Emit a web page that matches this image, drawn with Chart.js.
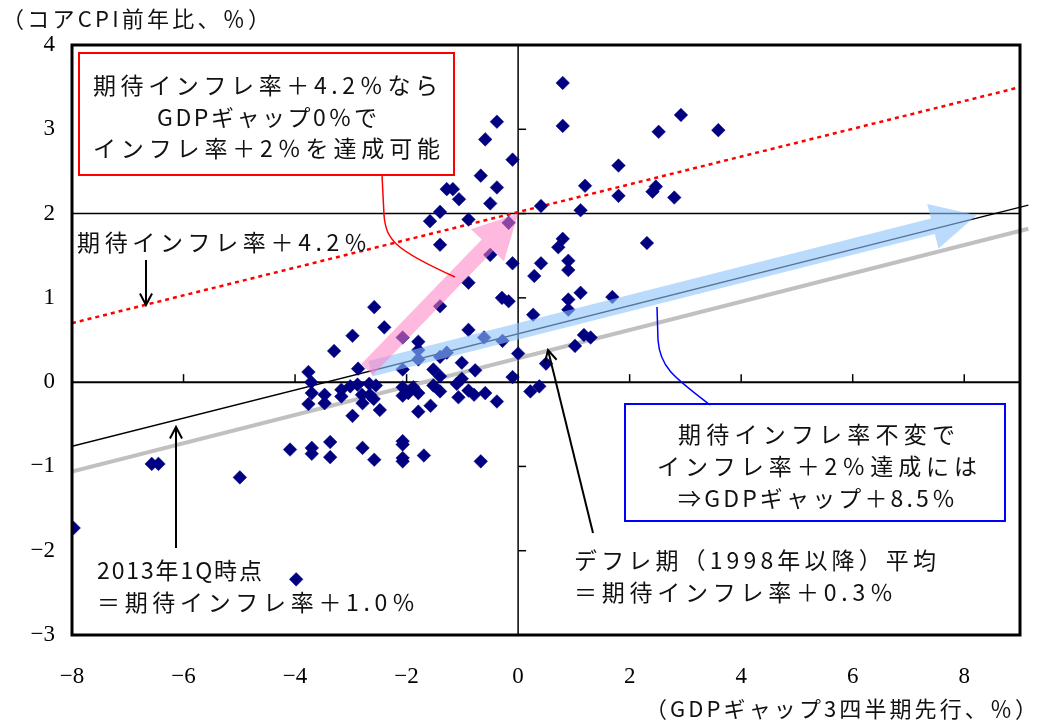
<!DOCTYPE html>
<html><head><meta charset="utf-8">
<script src="https://cdn.jsdelivr.net/npm/chart.js@4.4.1/dist/chart.umd.min.js"></script>
<style>html,body{margin:0;padding:0;background:#fff;}canvas{display:block;}</style>
</head><body>
<canvas id="c" width="1039" height="724"></canvas>
<script>
// ---- data ----
const xTicks = [-8, -6, -4, -2, 0, 2, 4, 6, 8];
const yTicks = [-3, -2, -1, 0, 1, 2, 3, 4];
const gapX = [
 -7.97,-6.57,-6.45,-4.99,-3.98,
 -2.58,-2.40,-2.97,-3.30,-2.07,-2.87,-2.07,-3.76,-3.71,-3.70,-3.76,-3.47,-3.47,-3.17,-3.17,-3.01,-2.88,-2.80,-2.79,-2.67,-2.55,-2.66,-2.59,-2.48,-2.97,-2.07,-2.07,
 -4.09,-3.70,-3.70,-3.37,-3.37,-2.79,-2.58,-2.07,-2.07,-2.07,-2.07,-1.69,-0.67,
 -0.89,-0.29,-0.17,-1.40,0.27,-1.79,-0.89,-0.61,-0.28,0.00,-1.79,-1.79,-1.28,-1.40,-1.01,-0.77,-0.10,-1.52,-1.40,-1.01,-1.10,-1.52,-1.40,-1.88,-1.97,-1.79,-0.89,-0.79,-0.59,-1.07,-0.38,0.22,0.38,-1.79,-1.57,
 -0.38,-0.59,-0.10,-0.67,-0.38,-1.28,-1.17,-1.06,-0.50,-1.40,-1.58,-0.89,-0.17,-1.40,-0.50,-0.10,
 0.80,0.80,2.92,2.52,3.59,1.80,1.20,2.47,2.41,1.80,2.80,0.41,1.12,0.80,0.72,2.31,0.41,0.29,0.90,0.90,1.12,0.90,0.90,1.69,1.18,1.30,1.02,0.50
];
const cpiY = [
 -1.73,-0.97,-0.97,-1.13,-2.34,
 0.89,0.65,0.55,0.37,0.53,0.16,0.15,0.12,0.00,-0.13,-0.26,-0.15,-0.25,-0.09,-0.17,-0.05,-0.03,-0.15,-0.25,-0.02,-0.04,-0.15,-0.20,-0.33,-0.40,-0.06,-0.16,
 -0.80,-0.78,-0.85,-0.71,-0.89,-0.78,-0.92,-0.70,-0.74,-0.90,-0.94,-0.87,-0.94,
 1.18,1.00,0.96,0.90,0.80,0.48,0.62,0.53,0.49,0.34,0.38,0.27,0.35,0.30,0.23,0.14,0.06,0.15,0.07,0.04,-0.02,-0.04,-0.11,-0.06,-0.13,-0.13,-0.10,-0.15,-0.13,-0.18,-0.23,-0.11,-0.05,-0.35,-0.28,
 3.09,2.88,2.64,2.45,2.31,2.29,2.29,2.17,2.12,2.02,1.91,1.93,1.89,1.63,1.51,1.41,
 3.55,3.04,3.17,2.97,2.99,2.57,2.33,2.32,2.26,2.21,2.19,2.09,2.04,1.70,1.60,1.65,1.41,1.26,1.44,1.33,1.06,0.98,0.86,1.01,0.56,0.53,0.43,0.22
];
// fitted lines (end points)
const fitX = [-8, 9.15];
const avgDeflY = [-1.06, 1.82];      // デフレ期平均
const q2013Y = [-0.76, 2.10];        // 2013年1Q時点
const expX = [-8, 9];
const exp42Y = [0.70, 3.50];         // 期待インフレ率＋4.2％
const targetLevel = 2;
const pinkArrowPts = [[-2.71, 0.15], [0.0, 2.0]];
const blueArrowPts = [[-2.65, 0.16], [8.22, 1.98]];

const JP = '"Noto Sans CJK JP", "Noto Sans", sans-serif';

function spaced(ctx, text, left, right, cy) {
  const chars = Array.from(text);
  const w = chars.map(c => ctx.measureText(c).width);
  const total = w.reduce((a, b) => a + b, 0);
  const gap = chars.length > 1 ? ((right - left) - total) / (chars.length - 1) : 0;
  let x = left;
  ctx.textAlign = 'left'; ctx.textBaseline = 'middle';
  chars.forEach((c, i) => { ctx.fillText(c, x, cy); x += w[i] + gap; });
}
function arrowLine(ctx, x1, y1, x2, y2) {
  ctx.beginPath(); ctx.moveTo(x1, y1); ctx.lineTo(x2, y2); ctx.stroke();
  const a = Math.atan2(y2 - y1, x2 - x1), L = 13, h = Math.PI / 6.5;
  ctx.beginPath();
  ctx.moveTo(x2 - L * Math.cos(a - h), y2 - L * Math.sin(a - h));
  ctx.lineTo(x2, y2);
  ctx.lineTo(x2 - L * Math.cos(a + h), y2 - L * Math.sin(a + h));
  ctx.stroke();
}
function blockArrow(ctx, x1, y1, x2, y2, shaft, headW, headL, color) {
  const a = Math.atan2(y2 - y1, x2 - x1);
  const len = Math.hypot(x2 - x1, y2 - y1);
  ctx.save();
  ctx.translate(x1, y1); ctx.rotate(a);
  ctx.beginPath();
  ctx.moveTo(0, -shaft / 2);
  ctx.lineTo(len - headL, -shaft / 2);
  ctx.lineTo(len - headL, -headW / 2);
  ctx.lineTo(len, 0);
  ctx.lineTo(len - headL, headW / 2);
  ctx.lineTo(len - headL, shaft / 2);
  ctx.lineTo(0, shaft / 2);
  ctx.closePath();
  ctx.fillStyle = color; ctx.fill();
  ctx.restore();
}

const decor = {
  id: 'decor',
  beforeDatasetsDraw(chart) {
    const {ctx, chartArea: ca, scales: {x, y}} = chart;
    const x0 = x.getPixelForValue(0), y0 = y.getPixelForValue(0), y2 = y.getPixelForValue(targetLevel);
    ctx.save();
    ctx.strokeStyle = '#000';
    ctx.lineWidth = 1.5;
    ctx.beginPath(); ctx.moveTo(ca.left, y2); ctx.lineTo(ca.right, y2); ctx.stroke();
    ctx.lineWidth = 2;
    ctx.beginPath(); ctx.moveTo(ca.left, y0); ctx.lineTo(ca.right, y0); ctx.stroke();
    ctx.lineWidth = 1.5;
    ctx.beginPath(); ctx.moveTo(x0, ca.top); ctx.lineTo(x0, ca.bottom); ctx.stroke();
    ctx.lineWidth = 1.5;
    xTicks.forEach(v => { const px = x.getPixelForValue(v); ctx.beginPath(); ctx.moveTo(px, y0); ctx.lineTo(px, y0 - 8); ctx.stroke(); });
    yTicks.forEach(v => { const py = y.getPixelForValue(v); ctx.beginPath(); ctx.moveTo(x0, py); ctx.lineTo(x0 + 8, py); ctx.stroke(); });
    ctx.restore();
  },
  afterDatasetsDraw(chart) {
    const {ctx, chartArea: ca, scales: {x, y}} = chart;
    ctx.save();
    ctx.beginPath(); ctx.rect(ca.left, ca.top, ca.width, ca.height); ctx.clip();
    const P = p => [x.getPixelForValue(p[0]), y.getPixelForValue(p[1])];
    let [a, b] = [P(blueArrowPts[0]), P(blueArrowPts[1])];
    blockArrow(ctx, a[0], a[1], b[0], b[1], 16, 46, 45, 'rgba(140,195,250,0.6)');
    [a, b] = [P(pinkArrowPts[0]), P(pinkArrowPts[1])];
    blockArrow(ctx, a[0], a[1], b[0], b[1], 16, 46, 44, 'rgba(255,125,195,0.55)');
    ctx.restore();
  },
  afterDraw(chart) {
    const {ctx, chartArea: ca} = chart;
    ctx.save();
    // frame
    ctx.strokeStyle = '#000'; ctx.lineWidth = 3;
    ctx.strokeRect(ca.left, ca.top, ca.right - ca.left, ca.bottom - ca.top);
    // red box
    ctx.fillStyle = '#fff'; ctx.fillRect(79, 53, 375, 122);
    ctx.strokeStyle = '#ff0000'; ctx.lineWidth = 2; ctx.strokeRect(79, 53, 375, 122);
    // red connector
    ctx.lineWidth = 1.5;
    ctx.beginPath(); ctx.moveTo(382, 175); ctx.lineTo(384, 215);
    ctx.bezierCurveTo(386, 240, 395, 250, 455, 277); ctx.stroke();
    // blue box
    ctx.fillStyle = '#fff'; ctx.fillRect(625, 404, 380, 117);
    ctx.strokeStyle = '#0000ff'; ctx.lineWidth = 2; ctx.strokeRect(625, 404, 380, 117);
    ctx.lineWidth = 1.5;
    ctx.beginPath(); ctx.moveTo(657, 307); ctx.lineTo(658, 340);
    ctx.bezierCurveTo(660, 368, 675, 378, 710, 405); ctx.stroke();
    // black arrows
    ctx.strokeStyle = '#000'; ctx.lineWidth = 2;
    arrowLine(ctx, 146, 260, 146, 305);
    arrowLine(ctx, 176, 548, 176, 427);
    arrowLine(ctx, 593, 533, 548, 350);
    // texts
    ctx.fillStyle = '#111';
    ctx.font = '23px ' + JP;
    spaced(ctx, '期待インフレ率＋4.2％なら', 93, 438, 85);
    spaced(ctx, 'GDPギャップ0％で', 157, 377, 117);
    spaced(ctx, 'インフレ率＋2％を達成可能', 93, 440, 148);
    spaced(ctx, '期待インフレ率＋4.2％', 77, 367, 242);
    spaced(ctx, '期待インフレ率不変で', 678, 955, 434);
    spaced(ctx, 'インフレ率＋2％達成には', 657, 977, 466);
    spaced(ctx, '⇒GDPギャップ＋8.5％', 678, 955, 498);
    spaced(ctx, '2013年1Q時点', 97, 262, 570);
    spaced(ctx, '＝期待インフレ率＋1.0％', 97, 415, 602);
    spaced(ctx, 'デフレ期（1998年以降）平均', 574, 936, 560);
    spaced(ctx, '＝期待インフレ率＋0.3％', 574, 893, 592);
    ctx.font = '22px ' + JP;
    spaced(ctx, '（コアCPI前年比、％）', 2, 270, 19);
    spaced(ctx, '（GDPギャップ3四半期先行、％）', 645, 1037, 709);
    ctx.restore();
  }
};

const fmt = v => String(v).replace('-', '\u2212');
new Chart(document.getElementById('c'), {
  type: 'scatter',
  data: {
    datasets: [
      { data: gapX.map((v, i) => ({x: v, y: cpiY[i]})), pointStyle: 'rectRot', pointRadius: 6.8,
        pointBackgroundColor: '#000080', pointBorderColor: '#000080', pointBorderWidth: 0.5, showLine: false },
      { data: expX.map((v, i) => ({x: v, y: exp42Y[i]})), showLine: true, borderColor: '#ff0000',
        borderWidth: 2.5, borderDash: [4, 4], pointRadius: 0 },
      { data: fitX.map((v, i) => ({x: v, y: q2013Y[i]})), showLine: true, borderColor: '#000',
        borderWidth: 1.5, pointRadius: 0, clip: {left: 0, top: 0, right: 10, bottom: 0} },
      { data: fitX.map((v, i) => ({x: v, y: avgDeflY[i]})), showLine: true, borderColor: '#c0c0c0',
        borderWidth: 4, pointRadius: 0, clip: {left: 0, top: 0, right: 10, bottom: 0} }
    ]
  },
  options: {
    responsive: false, animation: false, devicePixelRatio: 1,
    layout: { padding: {top: 45, right: 19, left: 0, bottom: 0} },
    plugins: { legend: {display: false}, tooltip: {enabled: false} },
    scales: {
      x: { type: 'linear', min: -8, max: 9,
        afterBuildTicks: s => { s.ticks = xTicks.map(v => ({value: v})); },
        afterFit: s => { s.height = 89; },
        grid: {display: false, drawTicks: false}, border: {display: false},
        ticks: { callback: fmt, color: '#000', padding: 28, maxRotation: 0, autoSkip: false,
          font: {family: '"Liberation Serif", serif', size: 23} } },
      y: { type: 'linear', min: -3, max: 4,
        afterBuildTicks: s => { s.ticks = yTicks.map(v => ({value: v})); },
        afterFit: s => { s.width = 72; },
        grid: {display: false, drawTicks: false}, border: {display: false},
        ticks: { callback: fmt, color: '#000', padding: 17,
          font: {family: '"Liberation Serif", serif', size: 23} } }
    }
  },
  plugins: [decor]
});
</script>
</body></html>
